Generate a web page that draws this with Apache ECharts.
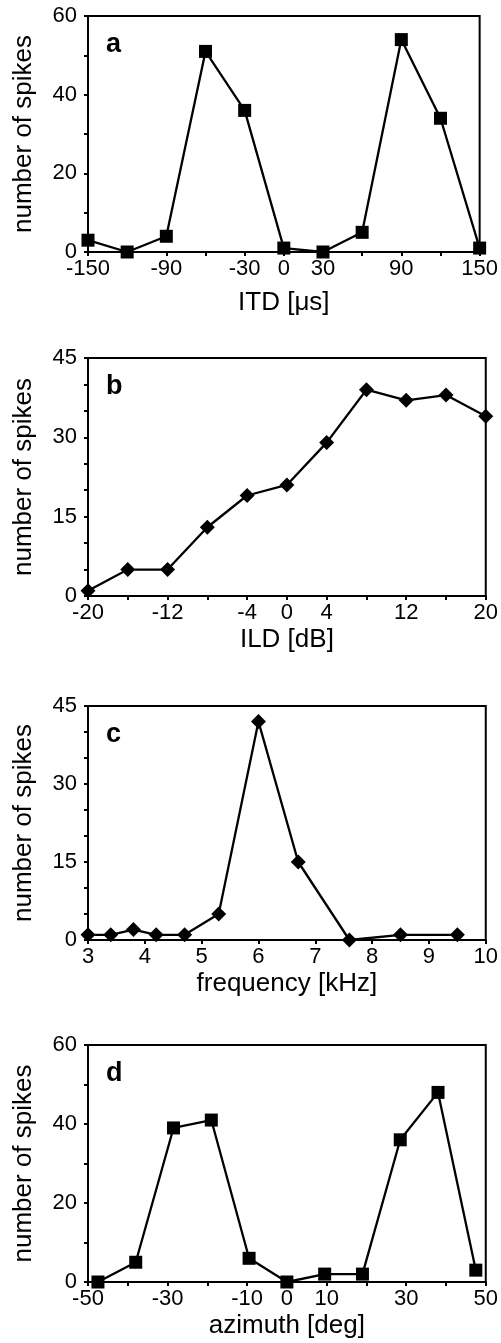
<!DOCTYPE html>
<html>
<head>
<meta charset="utf-8">
<script src="https://cdn.jsdelivr.net/npm/echarts@6/dist/echarts.min.js"></script>
<style>
html,body{margin:0;padding:0;background:#fff;}
#chart{width:501px;height:1343px;}
</style>
</head>
<body>
<div id="chart"></div>
<script>
// ---- data ----
const itdX = [-150, -120, -90, -60, -30, 0, 30, 60, 90, 120, 150];
const itdY = [3, 0, 4, 51, 36, 1, 0, 5, 54, 34, 1];
const itdTickLabels = [-150, -90, -30, 0, 30, 90, 150];

const ildX = [-20, -16, -12, -8, -4, 0, 4, 8, 12, 16, 20];
const ildY = [1, 5, 5, 13, 19, 21, 29, 39, 37, 38, 34];
const ildTickLabels = [-20, -12, -4, 0, 4, 12, 20];

const freqX = [3, 3.4, 3.8, 4.2, 4.7, 5.3, 6, 6.7, 7.6, 8.5, 9.5];
const freqY = [1, 1, 2, 1, 1, 5, 42, 15, 0, 1, 1];
const freqTickLabels = [3, 4, 5, 6, 7, 8, 9, 10];

const aziX = [-47.5, -38, -28.5, -19, -9.5, 0, 9.5, 19, 28.5, 38, 47.5];
const aziY = [0, 5, 39, 41, 6, 0, 2, 2, 36, 48, 3];
const aziTickLabels = [-50, -30, -10, 0, 10, 30, 50];

const yLabels60 = [0, 20, 40, 60];
const yLabels45 = [0, 15, 30, 45];

const panelLetters = ['a', 'b', 'c', 'd'];
const xTitles = ['ITD [\u03bcs]', 'ILD [dB]', 'frequency [kHz]', 'azimuth [deg]'];
const yTitle = 'number of spikes';

// ---- layout ----
const FONT = "'Liberation Sans', Arial, Helvetica, sans-serif";
const grids = [
  {top: 16, bottom: 252},
  {top: 358, bottom: 596},
  {top: 706, bottom: 940},
  {top: 1045, bottom: 1282}
];
const xNameGaps = [38, 31, 31, 31];

const panels = [
  {x: itdX, y: itdY, xl: itdTickLabels, yl: yLabels60, xmin: -150, xmax: 150, xint: 30, ymax: 60, yint: 10, sym: 'rect', size: 13},
  {x: ildX, y: ildY, xl: ildTickLabels, yl: yLabels45, xmin: -20, xmax: 20, xint: 4, ymax: 45, yint: 5, sym: 'diamond', size: 15},
  {x: freqX, y: freqY, xl: freqTickLabels, yl: yLabels45, xmin: 3, xmax: 10, xint: 1, ymax: 45, yint: 5, sym: 'diamond', size: 15},
  {x: aziX, y: aziY, xl: aziTickLabels, yl: yLabels60, xmin: -50, xmax: 50, xint: 10, ymax: 60, yint: 10, sym: 'rect', size: 13}
];

const option = {
  backgroundColor: '#fff',
  animation: false,
  textStyle: {fontFamily: FONT, color: '#000'},
  grid: [], xAxis: [], yAxis: [], series: [], title: []
};

panels.forEach((p, i) => {
  const g = grids[i];
  option.grid.push({
    left: 88, right: 15, top: g.top, height: g.bottom - g.top,
    show: true, borderColor: '#000', borderWidth: 2, backgroundColor: 'transparent',
    containLabel: false
  });
  option.xAxis.push({
    type: 'value', gridIndex: i, min: p.xmin, max: p.xmax, interval: p.xint,
    name: xTitles[i], nameLocation: 'middle', nameGap: xNameGaps[i],
    nameTextStyle: {fontSize: 26, color: '#000', fontFamily: FONT},
    axisLine: {show: true, onZero: false, lineStyle: {color: '#000', width: 2}},
    axisTick: {show: true, inside: false, length: 4, lineStyle: {color: '#000', width: 2}},
    axisLabel: {
      show: true, fontSize: 22, color: '#000', fontFamily: FONT, margin: 6,
      showMinLabel: true, showMaxLabel: true, hideOverlap: false,
      formatter: (v) => (p.xl.some(t => Math.abs(t - v) < 1e-9) ? String(v) : '')
    },
    splitLine: {show: false}
  });
  option.yAxis.push({
    type: 'value', gridIndex: i, min: 0, max: p.ymax, interval: p.yint,
    name: yTitle, nameLocation: 'middle', nameGap: 51, nameRotate: 90,
    nameTextStyle: {fontSize: 26, color: '#000', fontFamily: FONT},
    axisLine: {show: true, onZero: false, lineStyle: {color: '#000', width: 2}},
    axisTick: {show: true, inside: false, length: 4, lineStyle: {color: '#000', width: 2}},
    axisLabel: {
      show: true, fontSize: 22, color: '#000', fontFamily: FONT, margin: 11,
      formatter: (v) => (p.yl.indexOf(v) >= 0 ? String(v) : '')
    },
    splitLine: {show: false}
  });
  option.series.push({
    type: 'line', xAxisIndex: i, yAxisIndex: i,
    data: p.x.map((xv, k) => [xv, p.y[k]]),
    symbol: p.sym, symbolSize: p.size, showSymbol: true, clip: false,
    lineStyle: {color: '#000', width: 2.3},
    itemStyle: {color: '#000', borderColor: '#000', borderWidth: 0}
  });
  option.title.push({
    text: panelLetters[i], left: 106, top: g.top + 15,
    textStyle: {fontSize: 27, fontWeight: 'bold', color: '#000', fontFamily: FONT},
    padding: 0
  });
});

const chart = echarts.init(document.getElementById('chart'), null, {renderer: 'canvas'});
chart.setOption(option);
</script>
</body>
</html>
